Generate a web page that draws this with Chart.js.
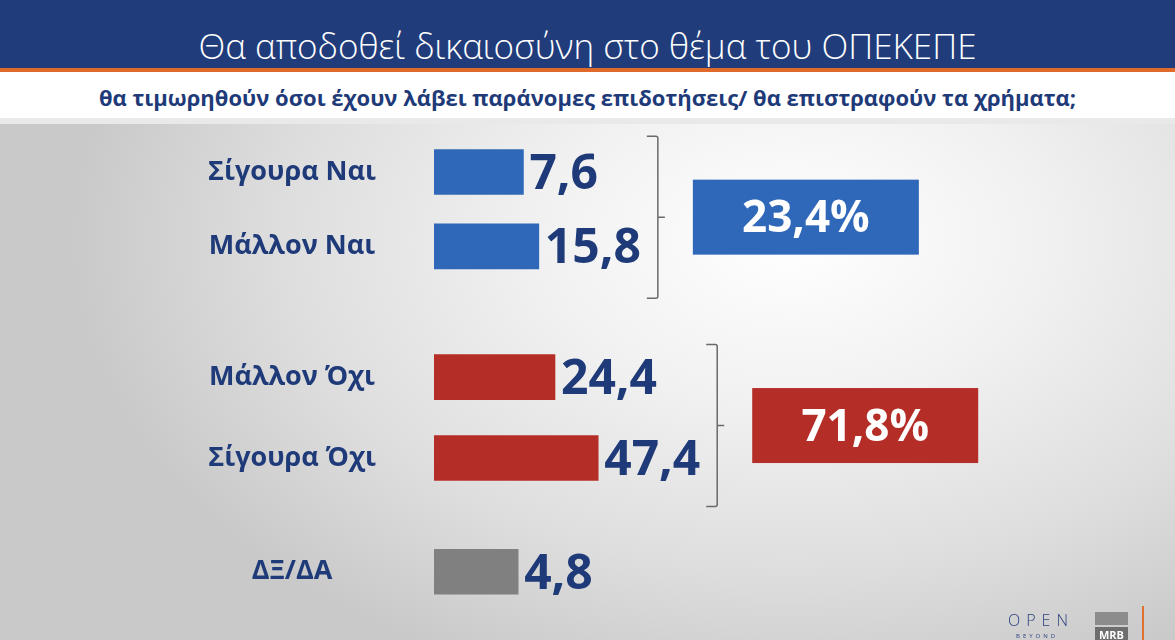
<!DOCTYPE html>
<html>
<head>
<meta charset="utf-8">
<script src="https://cdn.jsdelivr.net/npm/chart.js@4.4.1/dist/chart.umd.min.js"></script>
<style>
  html, body { margin: 0; padding: 0; }
  body {
    width: 1175px; height: 640px; overflow: hidden; position: relative;
    font-family: "Open Sans", "Noto Sans", sans-serif;
    background: radial-gradient(ellipse 720px 470px at 790px 240px, #ffffff 0%, #f1f1f1 35%, #dedede 70%, #c9c9c9 100%);
  }
  #head {
    position: absolute; left: 0; top: 0; width: 1175px; height: 68px;
    background: #213c7a; border-bottom: 4px solid #e06a2c; z-index: 2;
    color: #fff; font-size: 35px; font-weight: 300; text-align: center; line-height: 94px;
  }
  #head span { position: relative; top: -1px; }
  #sub {
    position: absolute; left: 0; top: 72px; width: 1175px; height: 46px;
    background: #fff; border-bottom: 6px solid #e9e9e9; z-index: 2;
    color: #1e3a78; font-size: 22px; font-weight: 700; text-align: center; line-height: 50px;
  }
  #wrap { position: absolute; left: 0; top: 0; width: 1175px; height: 640px; z-index: 1; }
  #logo-open { position: absolute; left: 1008px; top: 610px; color: #2a3f7e; font-size: 16px; letter-spacing: 6px; font-weight: 300; line-height: 20px; z-index: 3; }
  #logo-beyond { position: absolute; left: 1016px; top: 633px; color: #2a3f7e; font-size: 6px; letter-spacing: 3px; line-height: 7px; z-index: 3; }
  #mrb-top { position: absolute; left: 1095px; top: 612px; width: 33px; height: 13px; background: #8c8c8c; z-index: 3; }
  #mrb { position: absolute; left: 1095px; top: 627px; width: 33px; height: 13px; background: #6e6e6e; color: #fff;
    font-size: 11px; font-weight: 700; text-align: center; line-height: 15px; z-index: 3; }
  #bar-or { position: absolute; left: 1142px; top: 606px; width: 2px; height: 34px; background: #e07030; z-index: 3; }
</style>
</head>
<body>
<div id="head"><span>Θα αποδοθεί δικαιοσύνη στο θέμα του ΟΠΕΚΕΠΕ</span></div>
<div id="sub">θα τιμωρηθούν όσοι έχουν λάβει παράνομες επιδοτήσεις/ θα επιστραφούν τα χρήματα;</div>
<div id="wrap"><canvas id="chart" width="1175" height="640"></canvas></div>
<div id="logo-open">OPEN</div>
<div id="logo-beyond">BEYOND</div>
<div id="mrb-top"></div>
<div id="mrb">MRB</div>
<div id="bar-or"></div>
<script>
const labels = ['Σίγουρα Ναι', 'Μάλλον Ναι', 'Μάλλον Όχι', 'Σίγουρα Όχι', 'ΔΞ/ΔΑ']
const values = [7.6, 15.8, 24.4, 47.4, 4.8]
const barColors = ['#2f68b8', '#2f68b8', '#b42e27', '#b42e27', '#808080']

// grouped answers and their sums
const groups = [[0, 1], [2, 3]]
const totals = [23.4, 71.8]
const totalColors = ['#2f68b8', '#b42e27']

// row positions on the category axis (gaps between the groups)
const rowPos = [0, 1, 2.76, 3.85, 5.38]

const NAVY = '#1e3a78'
const FONT = '"Open Sans", "Noto Sans", sans-serif'
const axisStart = -40

const fmt = v => v.toFixed(1).replace('.', ',')

// work out padding so the row labels sit centred in the left column
const labelFont = 'bold 27px ' + FONT
const mctx = document.createElement('canvas').getContext('2d')
mctx.font = labelFont
const widest = Math.max(...labels.map(l => mctx.measureText(l).width))
const labelCenter = 142  // distance from bar base to label centre
const tickPad = labelCenter - widest / 2

const decorPlugin = {
  id: 'decor',
  afterDatasetsDraw(chart) {
    const ctx = chart.ctx
    const meta = chart.getDatasetMeta(0)
    ctx.save()

    // value labels after each bar
    ctx.font = 'bold 48px ' + FONT
    ctx.fillStyle = NAVY
    ctx.textAlign = 'left'
    ctx.textBaseline = 'alphabetic'
    const ends = meta.data.map((bar, i) => {
      const txt = fmt(values[i])
      const end = Math.max(bar.x, bar.base)
      ctx.fillText(txt, end + 6, bar.y + 17)
      return end + 6 + ctx.measureText(txt).width
    })

    // brackets + total boxes
    groups.forEach((g, gi) => {
      const bars = g.map(i => meta.data[i])
      const mid = (bars[0].y + bars[bars.length - 1].y) / 2 + 8
      const bx = Math.max(...g.map(i => ends[i])) + 17
      const half = 81
      ctx.strokeStyle = '#6a6a6a'
      ctx.lineWidth = 1.5
      ctx.beginPath()
      ctx.moveTo(bx - 11, mid - half)
      ctx.lineTo(bx - 2, mid - half)
      ctx.quadraticCurveTo(bx, mid - half, bx, mid - half + 2)
      ctx.lineTo(bx, mid + half - 2)
      ctx.quadraticCurveTo(bx, mid + half, bx - 2, mid + half)
      ctx.lineTo(bx - 11, mid + half)
      ctx.moveTo(bx, mid)
      ctx.lineTo(bx + 7, mid)
      ctx.stroke()

      const boxX = bx + 35
      const boxW = 226
      const boxH = 75
      ctx.fillStyle = totalColors[gi]
      ctx.fillRect(boxX, mid - boxH / 2, boxW, boxH)
      ctx.fillStyle = '#ffffff'
      ctx.font = 'bold 44px ' + FONT
      ctx.textAlign = 'center'
      ctx.fillText(fmt(totals[gi]) + '%', boxX + boxW / 2, mid + 15)
      ctx.textAlign = 'left'
    })
    ctx.restore()
  }
}

new Chart(document.getElementById('chart'), {
  type: 'bar',
  data: {
    datasets: [{
      data: values.map((v, i) => ({ y: rowPos[i], x: [axisStart, v] })),
      backgroundColor: barColors,
      borderWidth: 0,
      barThickness: 45
    }]
  },
  options: {
    indexAxis: 'y',
    responsive: false,
    animation: false,
    maintainAspectRatio: false,
    layout: { padding: { left: 150, top: 120, right: 478, bottom: 20 } },
    plugins: { legend: { display: false }, tooltip: { enabled: false } },
    scales: {
      x: {
        type: 'linear', min: axisStart, max: 100, display: false
      },
      y: {
        type: 'linear', reverse: true, min: -0.7, max: 6.03,
        offset: false,
        grid: { display: false, drawTicks: false },
        border: { display: false },
        afterBuildTicks: s => { s.ticks = rowPos.map(v => ({ value: v })) },
        afterFit: s => {
          s.width = 284
          // the big label padding should not shrink the plot vertically
          s.paddingTop = 0
          s.paddingBottom = 0
        },
        ticks: {
          autoSkip: false,
          crossAlign: 'center',
          padding: tickPad,
          color: NAVY,
          font: { family: FONT, size: 27, weight: 'bold' },
          callback: (val, idx) => labels[idx]
        }
      }
    }
  },
  plugins: [decorPlugin]
})
</script>
</body>
</html>
